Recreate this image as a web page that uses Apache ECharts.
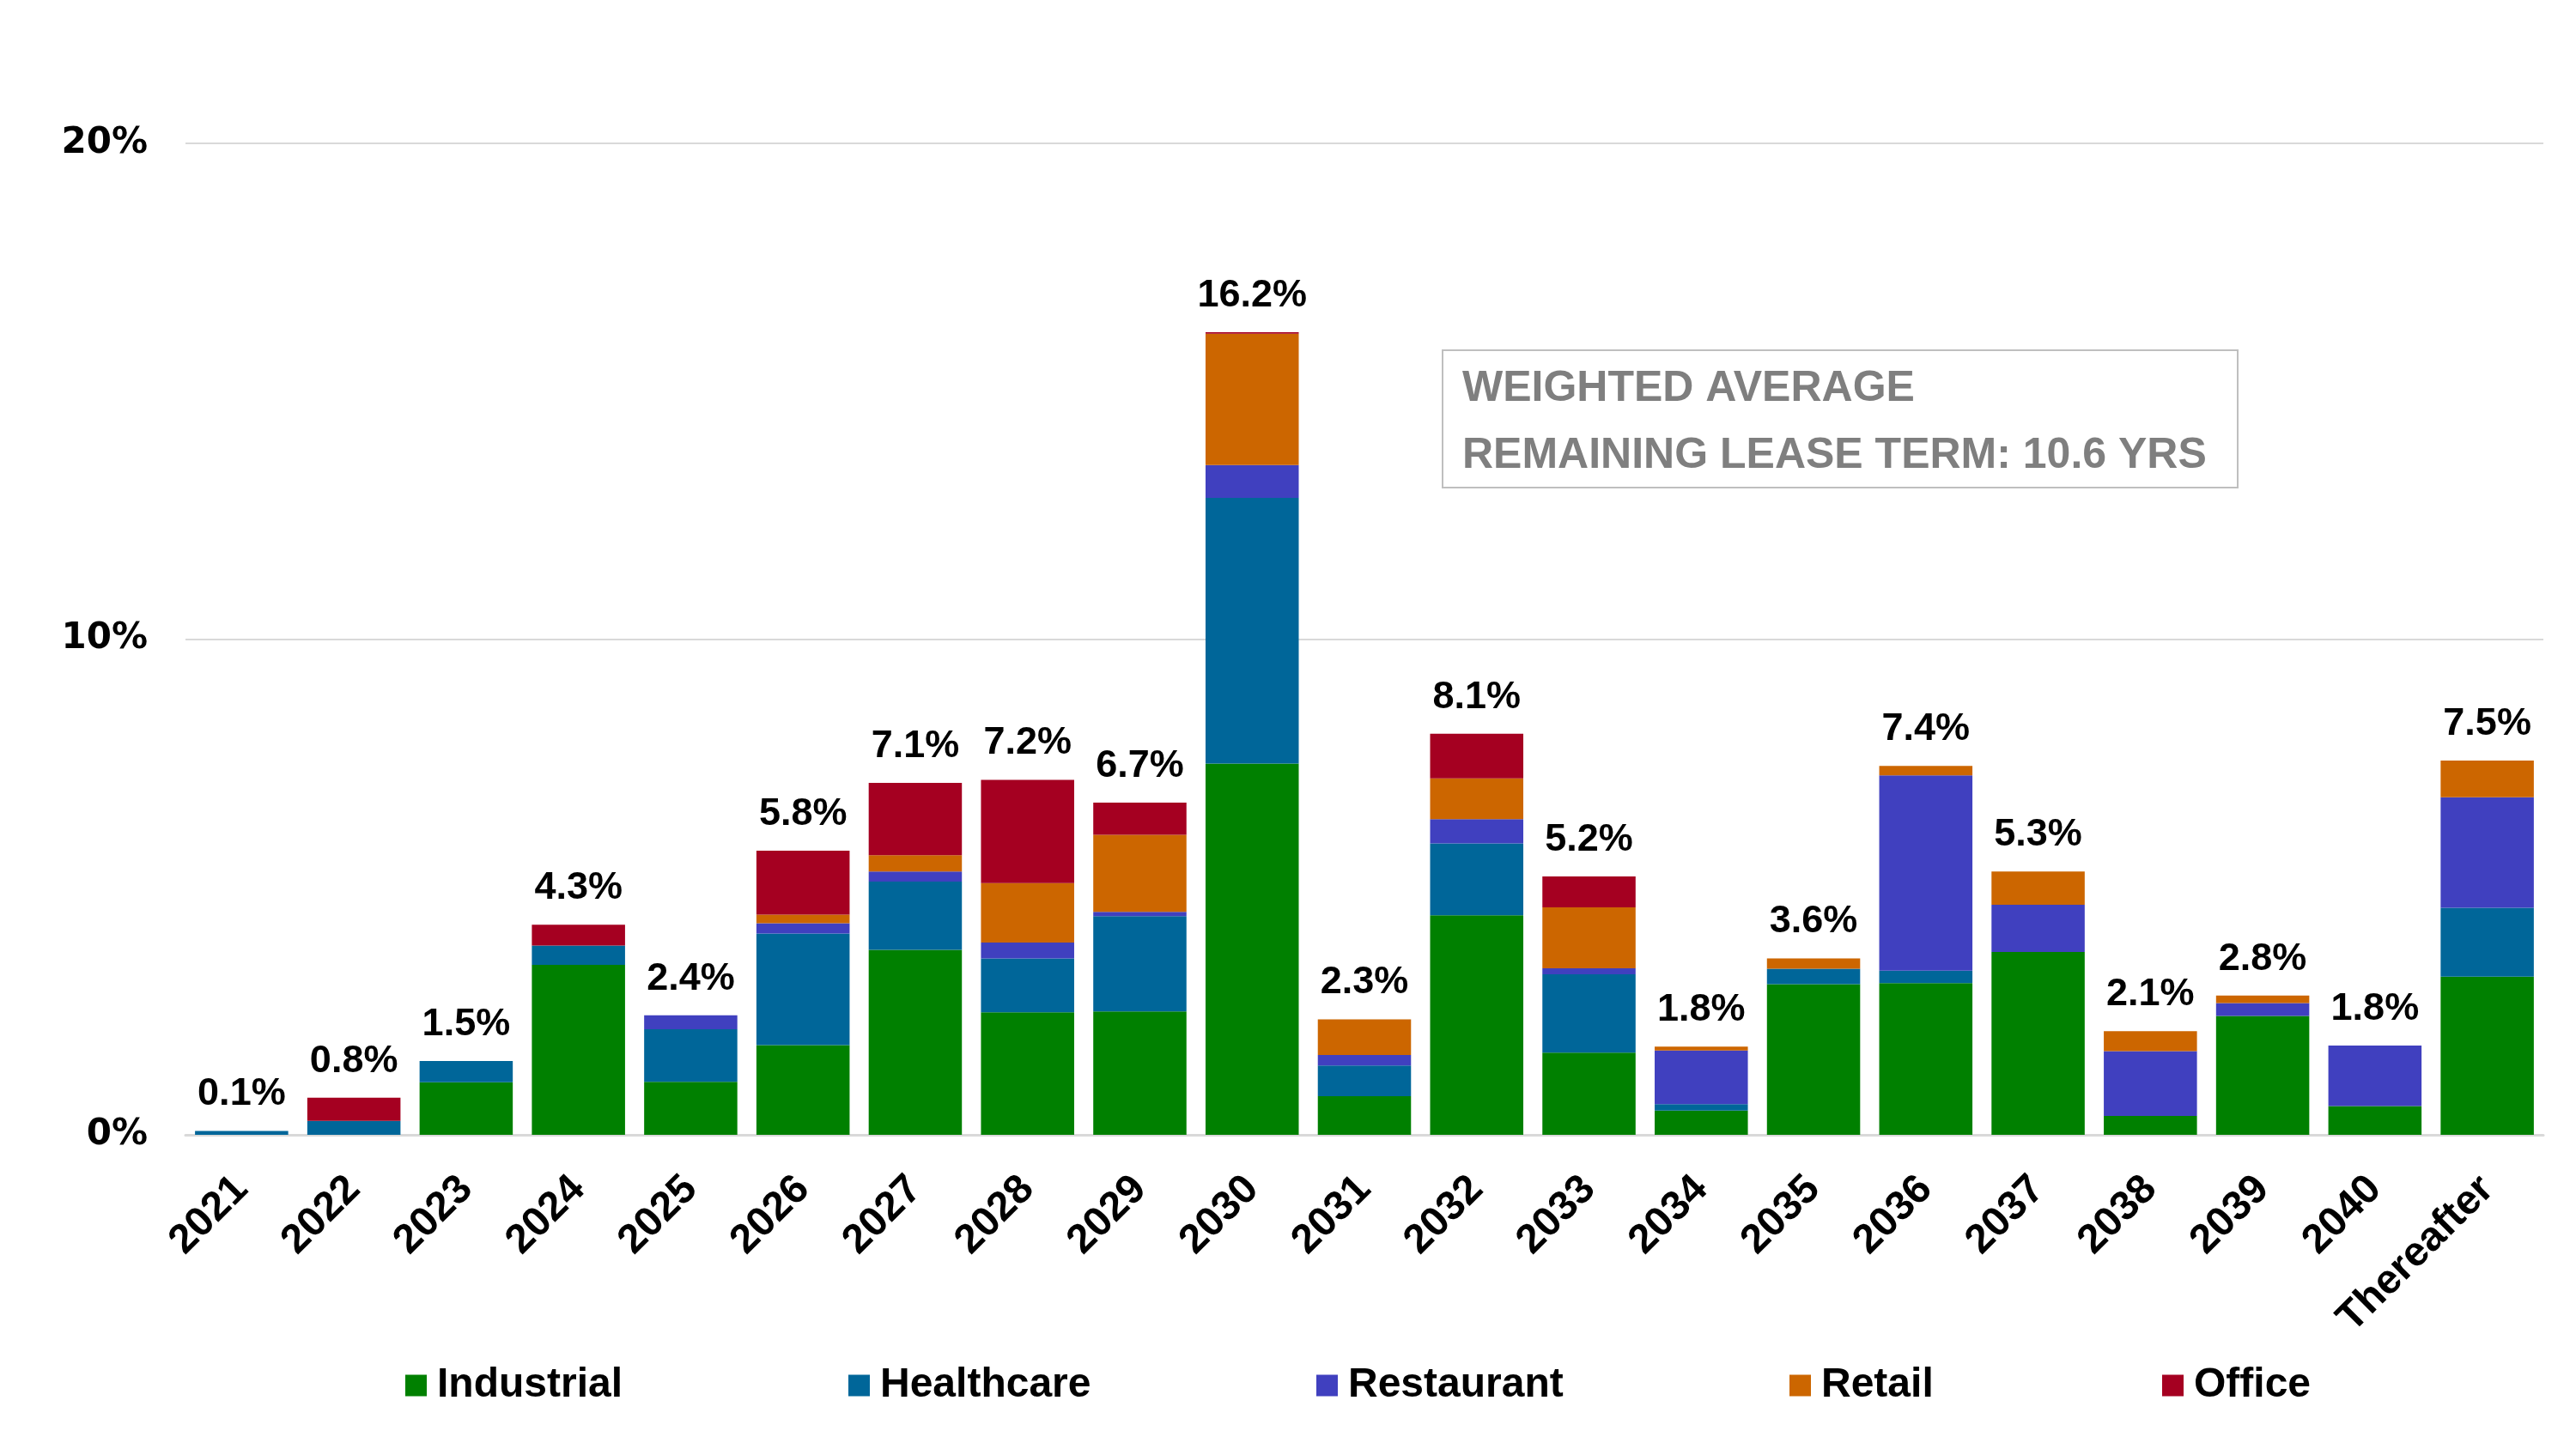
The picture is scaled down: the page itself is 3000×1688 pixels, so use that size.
<!DOCTYPE html>
<html>
<head>
<meta charset="utf-8">
<style>
  html, body { margin: 0; padding: 0; background: #ffffff; }
  #chart { width: 3000px; height: 1688px; }
</style>
<script src="https://cdn.jsdelivr.net/npm/echarts@6/dist/echarts.min.js"></script>
</head>
<body>
<div id="chart"></div>
<script>
// ---- Data (percent of ABR by lease expiration year) ----
const categories = ['2021','2022','2023','2024','2025','2026','2027','2028','2029','2030',
                    '2031','2032','2033','2034','2035','2036','2037','2038','2039','2040','Thereafter'];
const industrial = [0, 0, 1.06, 3.43, 1.07, 1.81, 3.73, 2.47, 2.49, 7.49, 0.78, 4.43, 1.66, 0.49, 3.04, 3.06, 3.69, 0.38, 2.40, 0.58, 3.19];
const healthcare = [0.08, 0.28, 0.43, 0.39, 1.06, 2.25, 1.38, 1.09, 1.92, 5.36, 0.62, 1.45, 1.58, 0.13, 0.31, 0.25, 0, 0, 0, 0, 1.39];
const restaurant = [0, 0, 0, 0, 0.28, 0.21, 0.20, 0.32, 0.09, 0.66, 0.21, 0.49, 0.12, 1.08, 0, 3.94, 0.95, 1.31, 0.26, 1.22, 2.23];
const retail     = [0, 0, 0, 0, 0, 0.17, 0.33, 1.20, 1.55, 2.65, 0.72, 0.82, 1.23, 0.08, 0.21, 0.19, 0.67, 0.40, 0.15, 0, 0.74];
const office     = [0, 0.47, 0, 0.42, 0, 1.29, 1.46, 2.08, 0.65, 0.03, 0, 0.90, 0.62, 0, 0, 0, 0, 0, 0, 0, 0];
const totalLabels = [0.1, 0.8, 1.5, 4.3, 2.4, 5.8, 7.1, 7.2, 6.7, 16.2, 2.3, 8.1, 5.2, 1.8, 3.6, 7.4, 5.3, 2.1, 2.8, 1.8, 7.5];
const yTicks = [0, 10, 20];

const seriesNames = ['Industrial', 'Healthcare', 'Restaurant', 'Retail', 'Office'];
const seriesData = [industrial, healthcare, restaurant, retail, office];
const colors = ['#008000', '#006699', '#4040bf', '#cc6600', '#a50021'];

const stackTops = categories.map((c, i) => seriesData.reduce((s, arr) => s + arr[i], 0));

const FONT = "'Liberation Sans', Arial, sans-serif";

const chart = echarts.init(document.getElementById('chart'), null, { renderer: 'canvas' });

const barSeries = seriesNames.map((name, k) => ({
  name: name,
  type: 'bar',
  stack: 'total',
  data: seriesData[k],
  barCategoryGap: '17%',
  itemStyle: { color: colors[k] },
  emphasis: { disabled: true },
  animation: false
}));

const legendLefts = [467, 983, 1528, 2079, 2513];
const legends = seriesNames.map((name, k) => ({
  data: [name],
  left: legendLefts[k],
  top: 1585,
  itemWidth: 25,
  itemHeight: 25,
  icon: 'rect',
  selectedMode: false,
  textStyle: { fontFamily: FONT, fontWeight: 'bold', fontSize: 48, color: '#000', padding: [0, 0, 0, 7] }
}));

chart.setOption({
  backgroundColor: '#ffffff',
  animation: false,
  color: colors,
  grid: { left: 216, right: 38, top: 167, bottom: 366, containLabel: false },
  legend: legends,
  xAxis: {
    type: 'category',
    data: categories,
    axisLine: { show: true, lineStyle: { color: '#d9d9d9', width: 3 } },
    axisTick: { show: false },
    axisLabel: {
      interval: 0,
      rotate: 45,
      margin: 56,
      fontFamily: FONT,
      fontWeight: 'bold',
      fontSize: 48,
      color: '#000'
    }
  },
  yAxis: {
    type: 'value',
    min: yTicks[0],
    max: yTicks[yTicks.length - 1],
    interval: yTicks[1] - yTicks[0],
    axisLine: { show: false },
    axisTick: { show: false },
    splitLine: { lineStyle: { color: '#d9d9d9', width: 2 } },
    axisLabel: {
      formatter: '{value}%',
      margin: 44,
      fontFamily: "'DejaVu Sans', sans-serif",
      fontWeight: 'bold',
      fontSize: 42,
      color: '#000'
    }
  },
  series: barSeries.concat([{
    name: 'Total',
    type: 'scatter',
    data: stackTops,
    symbolSize: 0,
    silent: true,
    itemStyle: { opacity: 1 },
    label: {
      show: true,
      position: 'top',
      distance: 20,
      formatter: p => totalLabels[p.dataIndex].toFixed(1) + '%',
      fontFamily: FONT,
      fontWeight: 'bold',
      fontSize: 45,
      color: '#000000',
      opacity: 1
    }
  }]),
  graphic: [{
    type: 'group',
    children: [
      {
        type: 'rect',
        shape: { x: 1680, y: 408, width: 926, height: 160 },
        style: { fill: '#ffffff', stroke: '#bfbfbf', lineWidth: 2 }
      },
      {
        type: 'text',
        x: 1703, y: 453,
        style: { text: 'WEIGHTED AVERAGE', fill: '#7f7f7f', font: "bold 50px 'Liberation Sans', Arial, sans-serif", textVerticalAlign: 'middle' }
      },
      {
        type: 'text',
        x: 1703, y: 531,
        style: { text: 'REMAINING LEASE TERM: 10.6 YRS', fill: '#7f7f7f', font: "bold 50px 'Liberation Sans', Arial, sans-serif", textVerticalAlign: 'middle' }
      }
    ]
  }]
});
</script>
</body>
</html>
